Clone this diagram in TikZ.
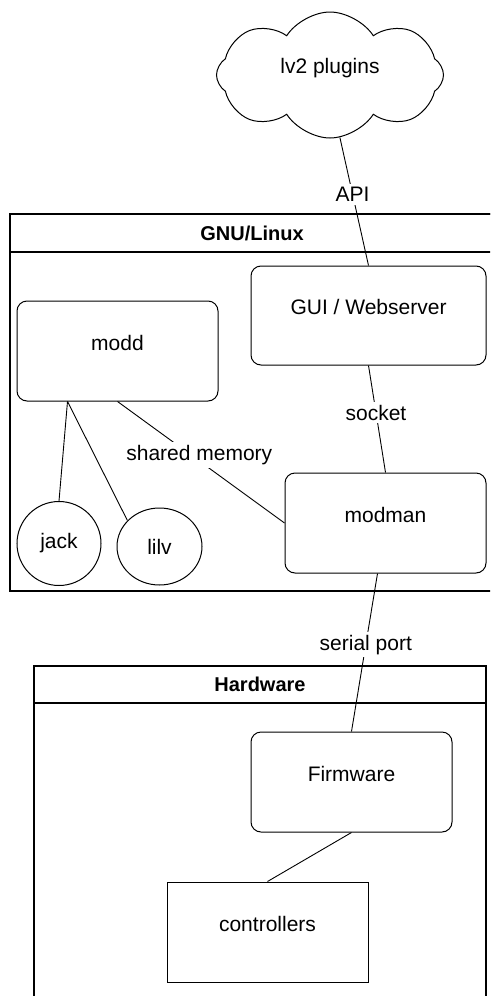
\documentclass[tikz,border=0pt]{standalone}
\usepackage{fontspec}
\setmainfont{Liberation Sans}
\usetikzlibrary{shapes.geometric,shapes.symbols}

\tikzset{
  frame/.style={draw, line width=1.5pt, inner sep=0pt},
  head/.style={draw, line width=1.5pt, inner sep=0pt, font=\fontsize{20}{24}\selectfont\bfseries},
  proc/.style={draw, line width=1pt, rounded corners=10pt, minimum width=201pt, minimum height=100pt, inner sep=0pt, text height=15pt, text depth=17pt},
  dev/.style={draw, line width=1pt, minimum width=201pt, minimum height=100pt, inner sep=0pt, text height=15pt, text depth=17pt},
  lib/.style={draw, line width=1pt, inner sep=0pt},
  lbl/.style={fill=white, inner sep=3pt}
}

\begin{document}
\begin{tikzpicture}[x=1pt, y=-1pt, line width=0.9pt, font=\fontsize{21}{25}\selectfont]
	\useasboundingbox (0,0) rectangle (490,996);
	\clip (0,0) rectangle (490,996);
	% containers
	\node[frame, minimum width=484pt, minimum height=377pt] (linux) at (252,402.5) {};
	\node[head, minimum width=484pt, minimum height=38pt, anchor=north] (linuxhead) at (linux.north) {GNU/Linux};
	\node[frame, minimum width=452pt, minimum height=360pt] (hw) at (260,846) {};
	\node[head, minimum width=452pt, minimum height=37pt, anchor=north] (hwhead) at (hw.north) {Hardware};
	% nodes
	\node[cloud, draw, line width=1pt, cloud puffs=8, cloud puff arc=115, cloud ignores aspect, minimum width=227pt, minimum height=126pt, inner sep=0pt, text height=15pt, text depth=18pt] (lv2) at (330,75) {lv2 plugins};
	\node[proc, minimum width=235pt, minimum height=99pt] (gui) at (368.5,315.5) {GUI / Webserver};
	\node[proc] (modd) at (117.5,351) {modd};
	\node[proc] (modman) at (385.5,523) {modman};
	\node[lib, circle, minimum size=84pt] (jack) at (59,543.5) {jack};
	\node[lib, ellipse, minimum width=85pt, minimum height=77pt] (lilv) at (159.5,546.5) {lilv};
	\node[proc] (firmware) at (351.5,782) {Firmware};
	\node[dev] (ctrl) at (267.5,932) {controllers};
	\coordinate (fork) at ([xshift=-50pt]modd.south);
	% connections
	\path (lv2.-81) edge node[lbl, pos=0.445] {API} (gui.north);
	\path (gui.south) edge node[lbl, pos=0.44] {socket} (modman.north);
	\path (modd.south) edge node[lbl, pos=0.49, yshift=6pt] {shared memory} (modman.west);
	\path (fork) edge (jack.north);
	\path (fork) edge (lilv.141);
	\path ([xshift=-8pt]modman.south) edge node[lbl, pos=0.45] {serial port} (firmware.north);
	\path (firmware.south) edge (ctrl.north);
\end{tikzpicture}
\end{document}
